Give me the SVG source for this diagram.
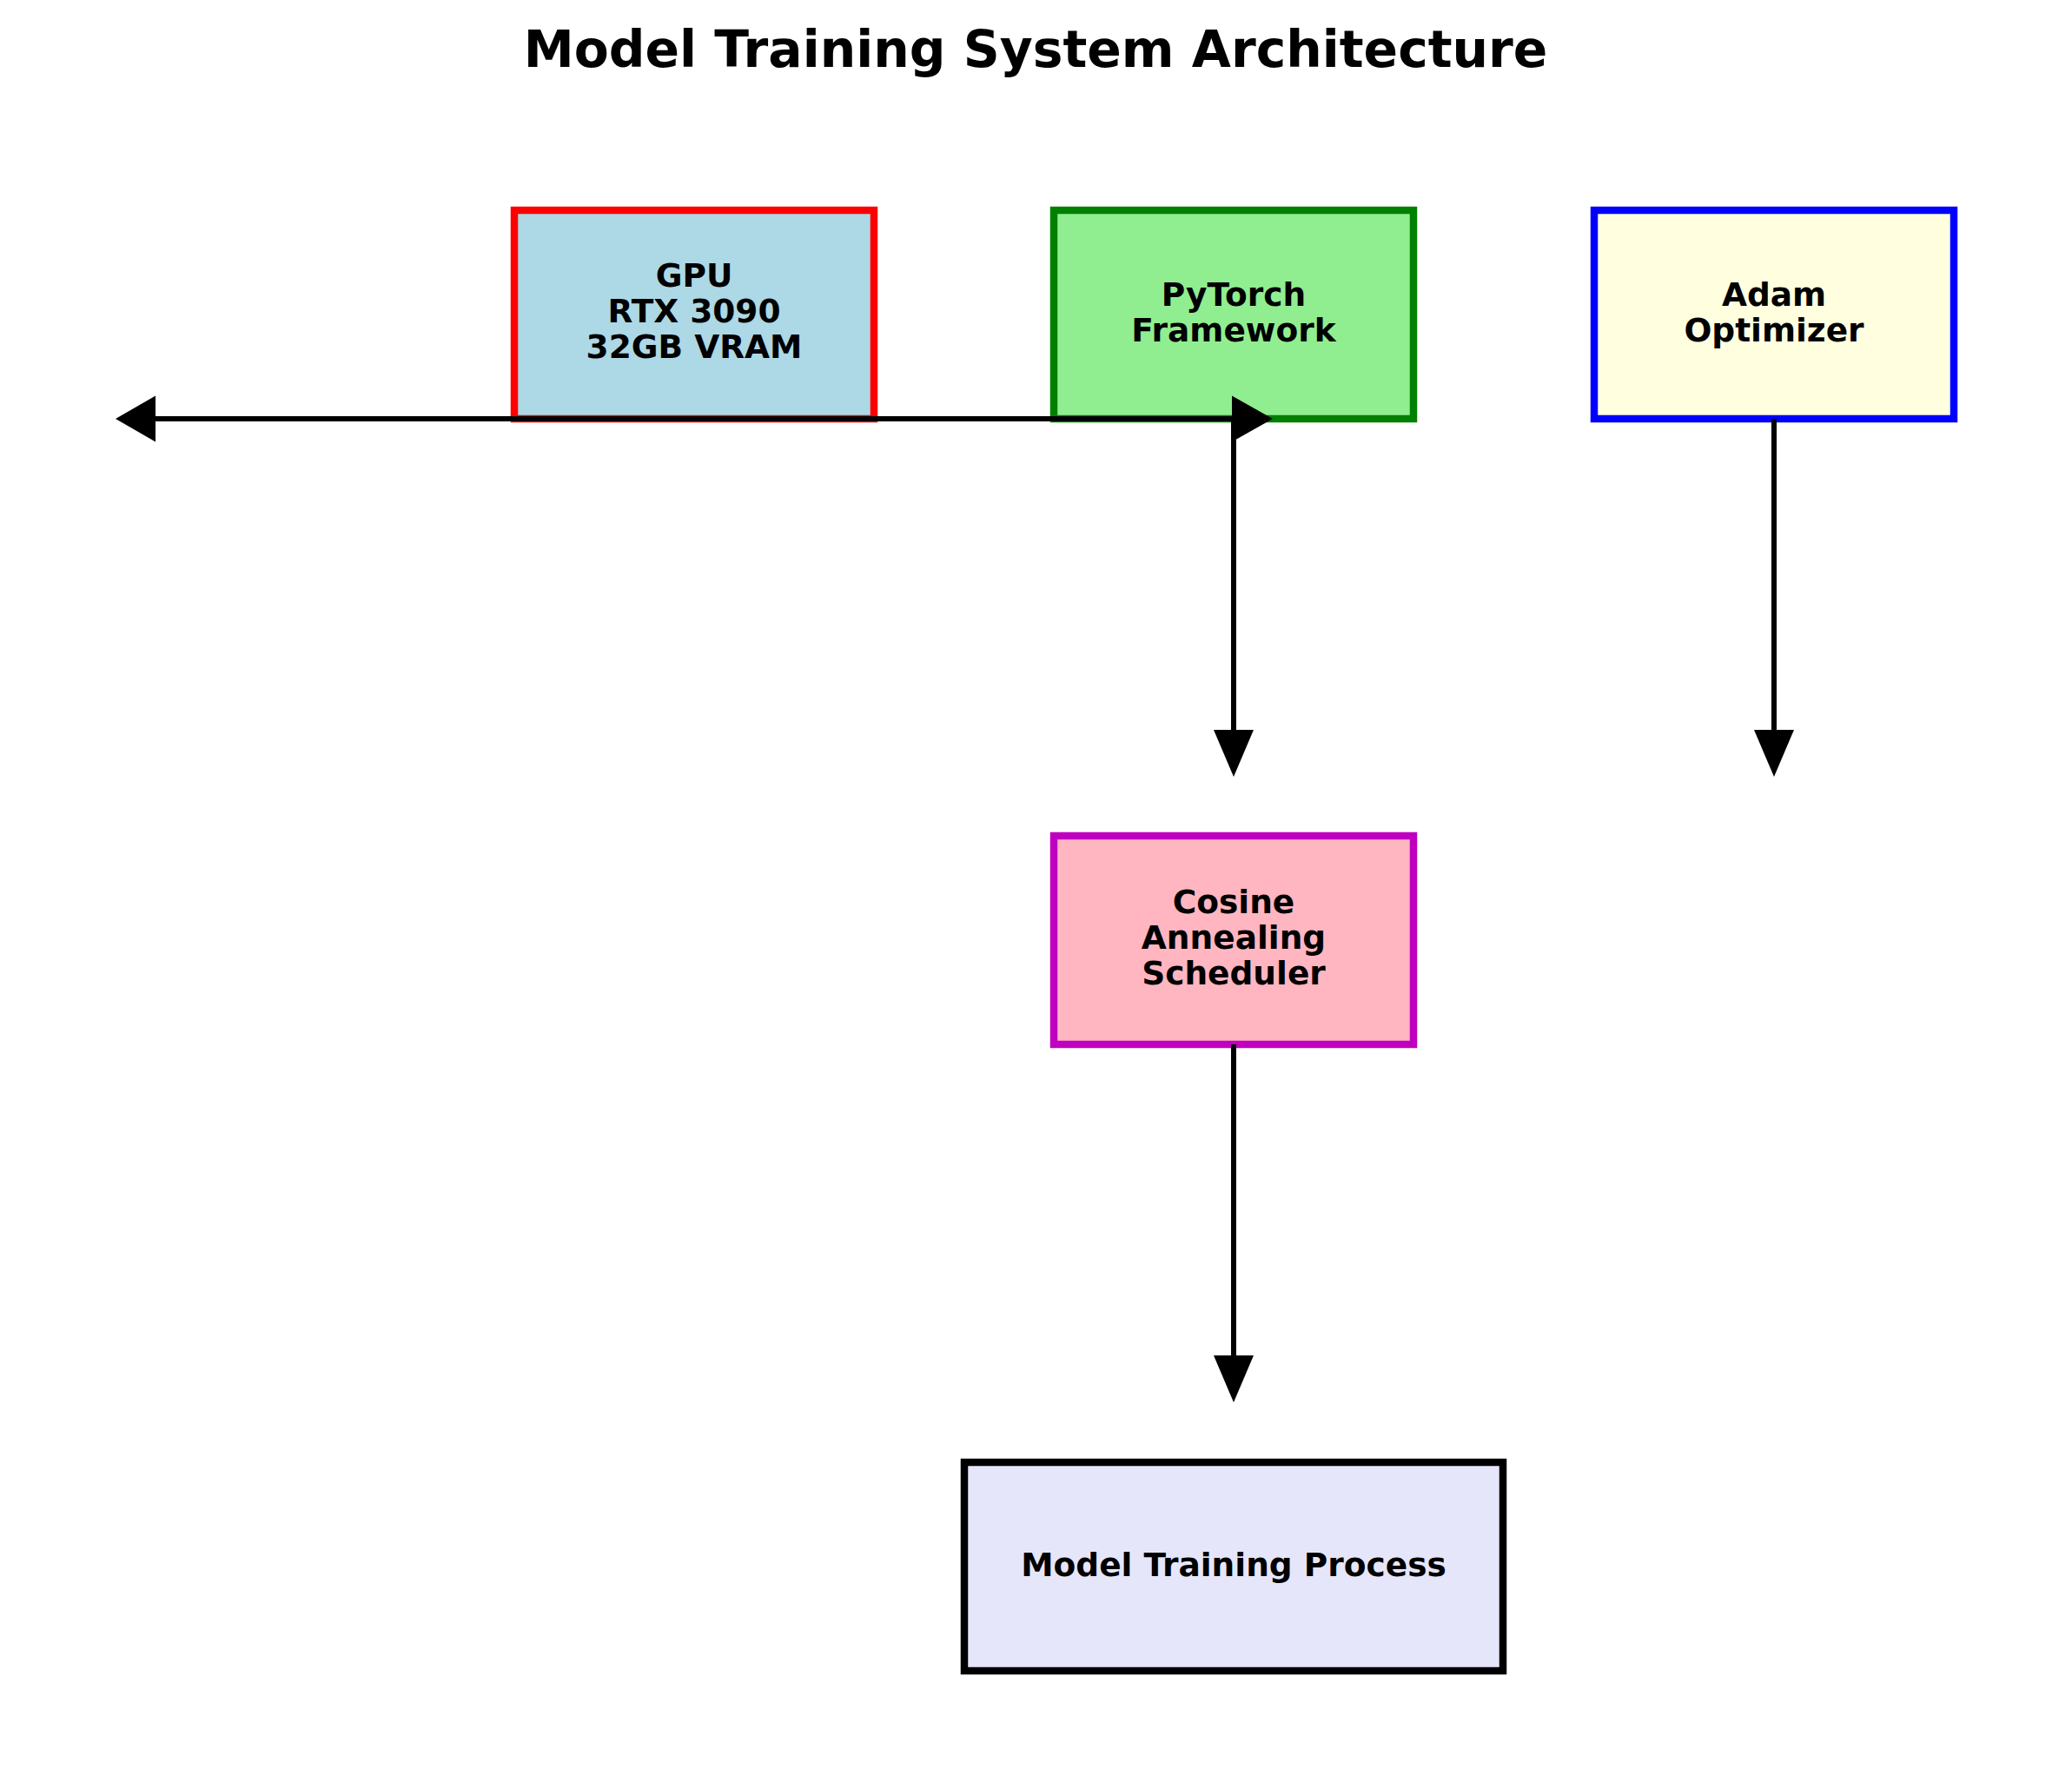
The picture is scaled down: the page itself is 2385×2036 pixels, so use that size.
<svg xmlns="http://www.w3.org/2000/svg" width="2385" height="2036" viewBox="0 0 2385 2036">
<style>
.box{stroke-width:8.5}
.lbl{font-family:"DejaVu Sans",sans-serif;font-weight:bold;font-size:37.5px;text-anchor:middle;fill:#000}
.title{font-family:"DejaVu Sans",sans-serif;font-weight:bold;font-size:58.3px;text-anchor:middle;fill:#000}
.ln{stroke:#000;stroke-width:6;fill:none}
.head{fill:#000;stroke:none}
</style>
<rect x="0" y="0" width="2385" height="2036" fill="#fff"/>
<text class="title" x="1192" y="77">Model Training System Architecture</text>
<g id="gpu">
<rect class="box" x="592" y="242" width="414" height="240" fill="#add8e6" stroke="#ff0000"/>
<text class="lbl" x="799" y="330">GPU</text>
<text class="lbl" x="799" y="371">RTX 3090</text>
<text class="lbl" x="799" y="412">32GB VRAM</text>
</g>
<g id="pytorch">
<rect class="box" x="1213" y="242" width="414" height="240" fill="#90ee90" stroke="#008000"/>
<text class="lbl" x="1420" y="352">PyTorch</text>
<text class="lbl" x="1420" y="393">Framework</text>
</g>
<g id="adam">
<rect class="box" x="1835" y="242" width="414" height="240" fill="#ffffe0" stroke="#0000ff"/>
<text class="lbl" x="2042" y="352">Adam</text>
<text class="lbl" x="2042" y="393">Optimizer</text>
</g>
<g id="scheduler">
<rect class="box" x="1213" y="962" width="414" height="240" fill="#ffb6c1" stroke="#bf00bf"/>
<text class="lbl" x="1420" y="1051">Cosine</text>
<text class="lbl" x="1420" y="1092">Annealing</text>
<text class="lbl" x="1420" y="1133">Scheduler</text>
</g>
<g id="training">
<rect class="box" x="1110" y="1683" width="620" height="240" fill="#e6e6fa" stroke="#000000"/>
<text class="lbl" x="1420" y="1814">Model Training Process</text>
</g>
<g id="connectors">
<line class="ln" x1="179" y1="482" x2="1418" y2="482"/>
<polygon class="head" points="133,482 179,455.5 179,508.5"/>
<polygon class="head" points="1465,482 1418,455.5 1418,508.5"/>
<line class="ln" x1="1420" y1="482" x2="1420" y2="842"/>
<polygon class="head" points="1420,894 1397,840 1443,840"/>
<line class="ln" x1="2042" y1="482" x2="2042" y2="842"/>
<polygon class="head" points="2042,894 2019,840 2065,840"/>
<line class="ln" x1="1420" y1="1202" x2="1420" y2="1562"/>
<polygon class="head" points="1420,1614 1397,1560 1443,1560"/>
</g>
</svg>
